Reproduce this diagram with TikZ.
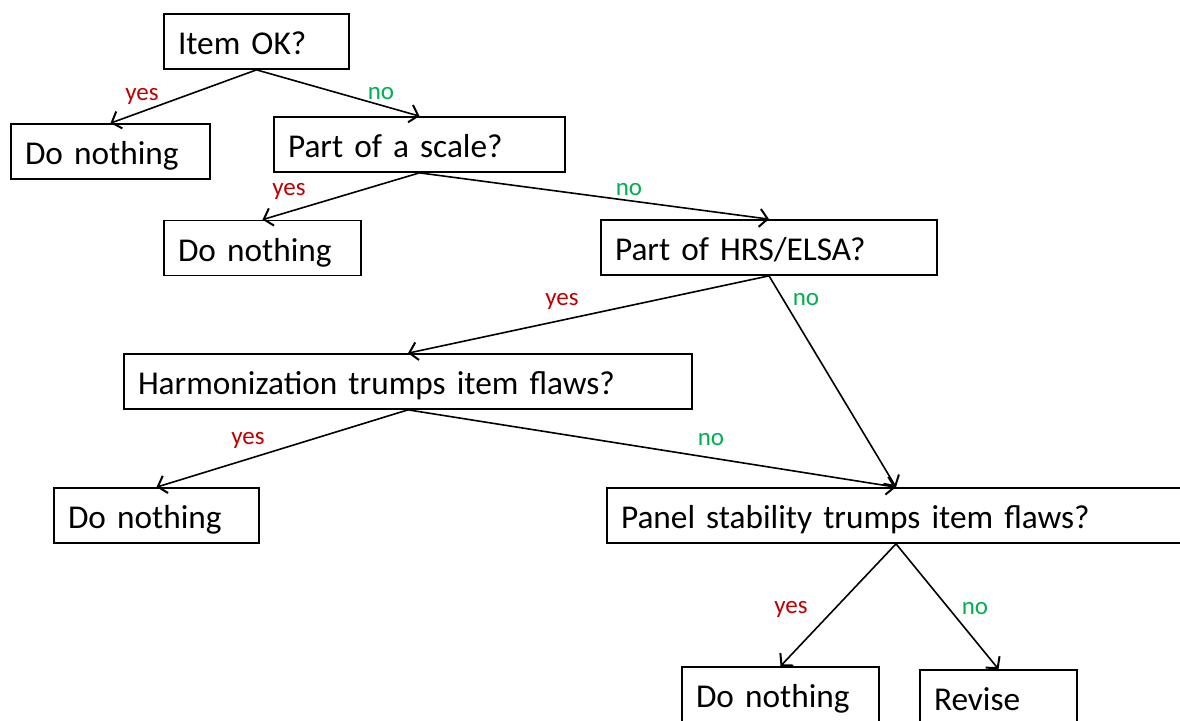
\documentclass[tikz,border=0pt]{standalone}
\usepackage{fontspec}
\setmainfont{Carlito}
\usetikzlibrary{arrows.meta}
\definecolor{yescol}{HTML}{C00000}
\definecolor{nocol}{HTML}{00B050}
\begin{document}
\begin{tikzpicture}[x=1pt,y=-1pt,
  qbox/.style={draw, line width=1.7pt, inner xsep=14pt, inner ysep=0pt,
    text height=28pt, text depth=2pt,
    align=left, minimum height=55pt, font=\fontsize{33.3pt}{38pt}\selectfont},
  edge/.style={line width=1.6pt, -{Straight Barb[length=8pt,width=18pt,line width=2pt]}},
  yeslab/.style={text=yescol, font=\fontsize{25pt}{30pt}\selectfont, inner sep=0pt},
  nolab/.style={text=nocol, font=\fontsize{25pt}{30pt}\selectfont, inner sep=0pt}]
\useasboundingbox (0,0) rectangle (1180,720);
\clip (0,0) rectangle (1180,720);

% decision and outcome boxes
\node[qbox, text width=157pt] (ok)    at (256.5,41.5) {Item OK?};
\node[qbox, text width=171pt] (dn1)   at (110.5,151.5) {Do nothing};
\node[qbox, text width=263pt] (scale) at (419.5,144.5) {Part of a scale?};
\node[qbox, text width=169pt] (dn2)   at (262.5,248) {Do nothing};
\node[qbox, text width=308pt] (hrs)   at (769,247.5) {Part of HRS/ELSA?};
\node[qbox, text width=540pt] (harm)  at (408,381.5) {Harmonization trumps item flaws?};
\node[qbox, text width=177pt] (dn3)   at (156.5,515.5) {Do nothing};
\node[qbox, text width=550pt] (panel) at (896,515.5) {Panel stability trumps item flaws?};
\node[qbox, text width=169pt] (dn4)   at (780.5,694.5) {Do nothing};
\node[qbox, text width=129pt] (rev)   at (998.5,697.5) {Revise};

% branches
\draw[edge] (ok.south) -- (dn1.north);
\draw[edge] (ok.south) -- (scale.north);
\draw[edge] (scale.south) -- (dn2.north);
\draw[edge] (scale.south) -- (hrs.north);
\draw[edge] (hrs.south) -- (harm.north);
\draw[edge] (hrs.south) -- (panel.north);
\draw[edge] (harm.south) -- (dn3.north);
\draw[edge] (harm.south) -- (panel.north);
\draw[edge] (panel.south) -- (dn4.north);
\draw[edge] (panel.south) -- (rev.north);

% branch labels
\node[yeslab] (l1y) at (142,96) {yes};
\node[nolab]  (l1n) at (381,94) {no};
\node[yeslab] (l2y) at (289,191) {yes};
\node[nolab]  (l2n) at (629,190) {no};
\node[yeslab] (l3y) at (562,301) {yes};
\node[nolab]  (l3n) at (806,300) {no};
\node[yeslab] (l4y) at (248,440) {yes};
\node[nolab]  (l4n) at (711,440) {no};
\node[yeslab] (l5y) at (791,609) {yes};
\node[nolab]  (l5n) at (975,609) {no};
\end{tikzpicture}
\end{document}
